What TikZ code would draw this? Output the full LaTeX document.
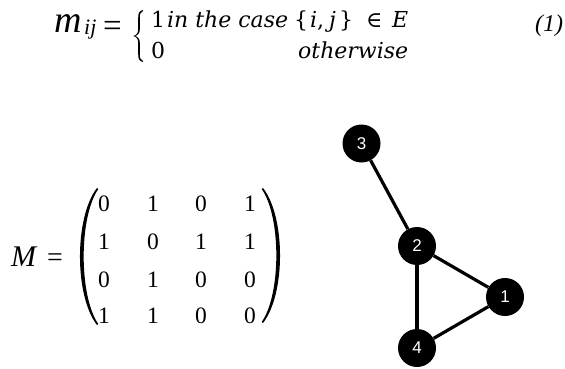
\documentclass[tikz,border=0pt]{standalone}
\usepackage{fontspec}
\setmainfont{Liberation Serif}
\newfontfamily\nodefont{Liberation Sans}
\newfontfamily\casefont{DejaVu Serif}
\begin{document}
\begin{tikzpicture}[x=1pt,y=-1pt,
  vtx/.style={circle,fill=black,minimum size=38pt,inner sep=0pt,text=white,font=\nodefont\fontsize{17}{17}\selectfont},
  edge/.style={line width=3.2pt},
  dig/.style={font=\fontsize{23.5}{23.5}\selectfont,inner sep=0pt,anchor=center},
  casetxt/.style={font=\casefont\itshape\fontsize{22}{22}\selectfont,inner sep=0pt,anchor=base west},
  caseup/.style={font=\casefont\fontsize{22}{22}\selectfont,inner sep=0pt,anchor=base west}]
\useasboundingbox (0,0) rectangle (565,369);
% formula (1)
\node[inner sep=0pt,anchor=base west,font=\itshape\fontsize{38}{38}\selectfont] (m) at (54,33) {m};
\node[inner sep=0pt,anchor=base west,font=\itshape\fontsize{22}{22}\selectfont] (ij) at (84,35) {ij};
\node[inner sep=0pt,anchor=base west,font=\fontsize{33}{33}\selectfont] (eq) at (103,37) {=};
\fill (143,10) .. controls (139,11) and (138.2,13) .. (138.2,18) -- (138.2,29)
  .. controls (138.2,33) and (136.5,35.5) .. (133,36)
  .. controls (136.5,36.5) and (138.2,39) .. (138.2,43) -- (138.2,54)
  .. controls (138.2,59) and (139,61) .. (143,62)
  -- (143,61) .. controls (140.5,60) and (139.8,58) .. (139.8,54) -- (139.8,43)
  .. controls (139.8,39.5) and (138.5,37) .. (135.8,36)
  .. controls (138.5,35) and (139.8,32.5) .. (139.8,29) -- (139.8,18)
  .. controls (139.8,14) and (140.5,12) .. (143,11) -- cycle;
\node[caseup] (one) at (151,28) {1};
\node[casetxt] (case) at (167,28) {in the case};
\node[caseup] (set) at (294,28) {\{\kern2pt\textit{i},\kern5pt\textit{j}\kern3pt\}};
\node[caseup] (in) at (366,28) {∈};
\node[casetxt] (E) at (392,28) {E};
\node[caseup] (zero) at (151,59) {0};
\node[casetxt] (oth) at (298,59) {otherwise};
\node[inner sep=0pt,anchor=base west,font=\itshape\fontsize{24}{24}\selectfont] (num) at (535,32) {(1)};
% matrix
\node[inner sep=0pt,anchor=base west,font=\itshape\fontsize{30}{30}\selectfont] (M) at (11,266) {M};
\node[inner sep=0pt,anchor=base west,font=\fontsize{28}{28}\selectfont] (eq2) at (47,266) {=};
\fill (97,188) .. controls (74.3,217) and (74.3,296) .. (97,325)
  -- (98.3,324) .. controls (78.8,296) and (78.8,217) .. (98.3,189) -- cycle;
\fill (263,188) .. controls (285.7,217) and (285.7,294) .. (263,323)
  -- (261.7,322) .. controls (281.2,294) and (281.2,217) .. (261.7,189) -- cycle;
\foreach \r/\y in {1/204,2/242,3/280,4/316}{
  \foreach \c/\x in {1/104,2/153,3/201,4/250}{
    \coordinate (p\r\c) at (\x,\y);
  }
}
\node[dig] (a11) at (p11) {0}; \node[dig] (a12) at (p12) {1}; \node[dig] (a13) at (p13) {0}; \node[dig] (a14) at (p14) {1};
\node[dig] (a21) at (p21) {1}; \node[dig] (a22) at (p22) {0}; \node[dig] (a23) at (p23) {1}; \node[dig] (a24) at (p24) {1};
\node[dig] (a31) at (p31) {0}; \node[dig] (a32) at (p32) {1}; \node[dig] (a33) at (p33) {0}; \node[dig] (a34) at (p34) {0};
\node[dig] (a41) at (p41) {1}; \node[dig] (a42) at (p42) {1}; \node[dig] (a43) at (p43) {0}; \node[dig] (a44) at (p44) {0};
% graph
\node[vtx] (n3) at (361.5,143.5) {3};
\node[vtx] (n2) at (417,246) {2};
\node[vtx] (n1) at (505,297) {1};
\node[vtx] (n4) at (417,348) {4};
\draw[edge] (n3) -- (n2);
\draw[edge] (n2) -- (n1);
\draw[edge] (n2) -- (n4);
\draw[edge] (n4) -- (n1);
\end{tikzpicture}
\end{document}
